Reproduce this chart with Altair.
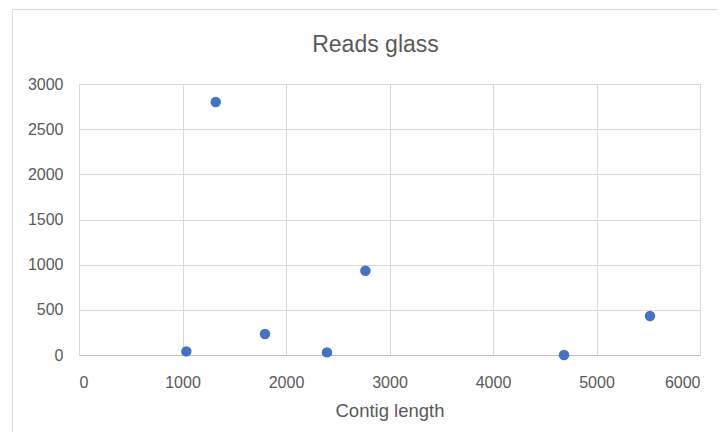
import altair as alt
import pandas as pd

contig_length = [1037, 1321, 1797, 2396, 2767, 4686, 5517]
reads_glass = [40, 2800, 232, 29, 932, 0, 431]
x_ticks = [0, 1000, 2000, 3000, 4000, 5000, 6000]
y_ticks = [0, 500, 1000, 1500, 2000, 2500, 3000]

df = pd.DataFrame({"x": contig_length, "y": reads_glass})

FONT = "Liberation Sans"
GRAY = "#595959"

border = alt.Chart(pd.DataFrame({"a": [0]})).mark_rect(
    filled=False, stroke="#d9d9d9", strokeWidth=1
).encode(
    x=alt.value(-66.5), x2=alt.value(720), y=alt.value(-74.5), y2=alt.value(420)
)

points = alt.Chart(df).mark_circle(size=110, color="#4472C4", opacity=1).encode(
    x=alt.X(
        "x:Q",
        scale=alt.Scale(domain=[0, 6000], nice=False),
        axis=alt.Axis(
            values=x_ticks, format="d", title="Contig length", grid=True, gridColor="#d9d9d9",
            ticks=False, tickSize=0, domain=True, domainColor="#bfbfbf",
            labelPadding=19, labelFontSize=16, labelColor=GRAY, labelFont=FONT,
            titleFontSize=18.5, titleColor=GRAY, titleFont=FONT, titleFontWeight="normal",
            titleY=61, titleBaseline="alphabetic",
        ),
    ),
    y=alt.Y(
        "y:Q",
        scale=alt.Scale(domain=[0, 3000], nice=False),
        axis=alt.Axis(
            values=y_ticks, format="d", title=None, grid=True, gridColor="#d9d9d9",
            ticks=False, tickSize=0, domain=False,
            labelPadding=16, labelFontSize=16, labelColor=GRAY, labelFont=FONT,
        ),
    ),
)

chart = alt.layer(border, points).properties(
    width=621,
    height=271,
    title=alt.TitleParams(
        "Reads glass", fontSize=23, font=FONT, color=GRAY, fontWeight="normal",
        anchor="middle", dx=-14, baseline="alphabetic", offset=0, dy=66,
    ),
    autosize=alt.AutoSizeParams(type="none"),
    padding={"left": 71, "top": 76, "right": 18, "bottom": 77},
).configure_view(stroke=None).configure(background="white")

chart.save("out.html", embed_options={"renderer": "svg", "actions": False})
